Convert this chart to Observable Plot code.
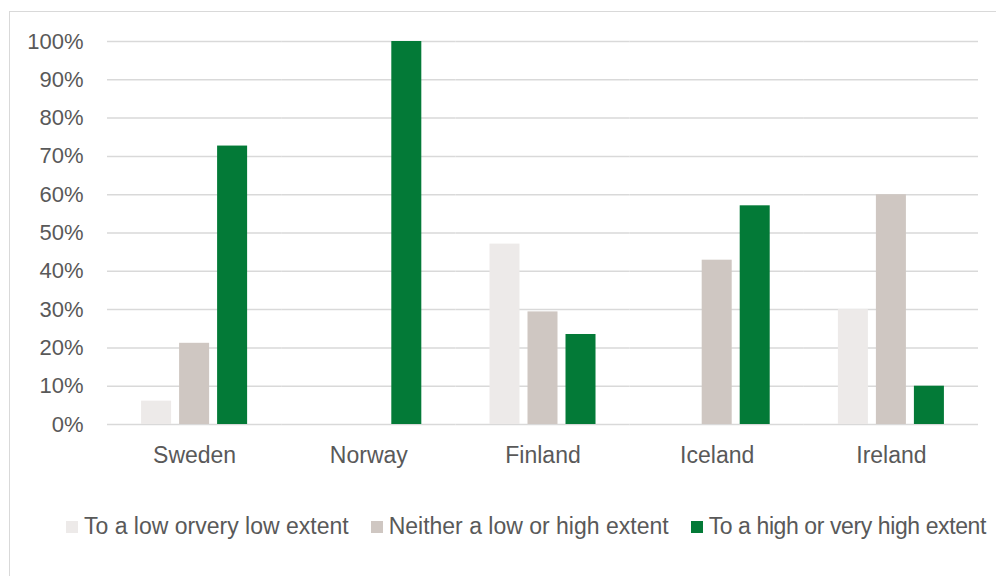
<!DOCTYPE html>
<html>
<head>
<meta charset="utf-8">
<script src="https://cdn.jsdelivr.net/npm/d3@7"></script>
<script src="https://cdn.jsdelivr.net/npm/@observablehq/plot@0.6"></script>
<style>
  html, body { margin: 0; padding: 0; background: #fff; overflow: hidden; width: 996px; height: 576px; }
  #frame { position: absolute; left: 9px; top: 11px; width: 1000px; height: 600px; border: 1px solid #d9d9d9; box-sizing: border-box; }
  #chart { position: absolute; left: 0; top: 0; }
  #chart g[aria-label="fx-axis tick label"] { font-size: 23px; }
  #legend { position: absolute; left: 66px; top: 513px; display: flex; align-items: center;
    font-family: "Liberation Sans", Arial, sans-serif; font-size: 23px; color: #595959; white-space: nowrap; }
  #legend .item { display: flex; align-items: center; margin-right: 22px; }
  #legend .item:last-child { letter-spacing: -0.4px; margin-right: 0; }
  #legend .sw { width: 12px; height: 12px; margin-right: 6px; display: inline-block; }
</style>
</head>
<body>
<div id="frame"></div>
<div id="chart"></div>
<div id="legend"></div>
<script>
const countries = ["Sweden", "Norway", "Finland", "Iceland", "Ireland"];
const seriesNames = ["To a low orvery low extent", "Neither a low or high extent", "To a high or very high extent"];
const lowValues = [0.061, 0, 0.471, 0, 0.30];
const neitherValues = [0.212, 0, 0.294, 0.429, 0.60];
const highValues = [0.727, 1.0, 0.235, 0.571, 0.10];
const seriesColors = ["#EDEAE9", "#CFC7C2", "#037A37"];

const seriesValues = [lowValues, neitherValues, highValues];
const data = countries.flatMap((c, i) =>
  seriesNames.map((s, j) => ({country: c, series: s, value: seriesValues[j][i]}))
);

const chart = Plot.plot({
  width: 996,
  height: 480,
  marginTop: 41,
  marginBottom: 56,
  marginLeft: 107,
  marginRight: 18,
  style: {fontFamily: "Liberation Sans, Arial, sans-serif", fontSize: "22px", color: "#595959", background: "transparent", overflow: "visible"},
  fx: {domain: countries, padding: 0, round: false, label: null, axis: "bottom", tickSize: 0, tickPadding: 22},
  x: {domain: seriesNames, paddingInner: 0.2105, paddingOuter: 0.897, round: false, axis: null},
  y: {domain: [0, 1], ticks: 10, tickFormat: d3.format(".0%"), tickSize: 0, tickPadding: 24, label: null},
  color: {domain: seriesNames, range: seriesColors},
  marks: [
    Plot.ruleY(d3.range(0, 11).map(d => d / 10), {stroke: "#d9d9d9", strokeWidth: 1.5}),
    Plot.barY(data, {fx: "country", x: "series", y: "value", fill: "series"})
  ]
});
document.getElementById("chart").appendChild(chart);

const legend = document.getElementById("legend");
seriesNames.forEach((s, i) => {
  const item = document.createElement("span");
  item.className = "item";
  const sw = document.createElement("span");
  sw.className = "sw";
  sw.style.background = seriesColors[i];
  item.appendChild(sw);
  item.appendChild(document.createTextNode(s));
  legend.appendChild(item);
});
</script>
</body>
</html>
